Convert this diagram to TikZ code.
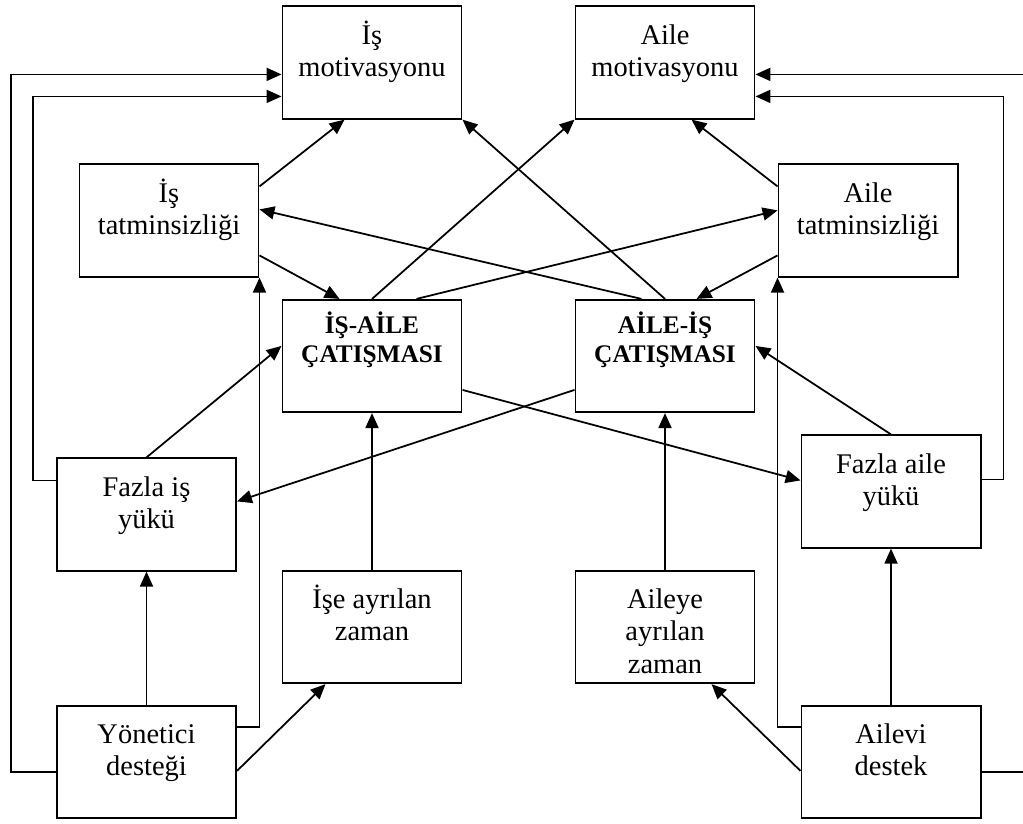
\documentclass[tikz,border=0pt]{standalone}
\usepackage{fontspec}
\setmainfont{Liberation Serif}
\usetikzlibrary{arrows.meta,calc}
\newcommand{\kutuyazi}[1]{\parbox[c][64pt][t]{102pt}{\centering\rule{0pt}{21.5pt}#1}}
\newcommand{\kalinyazi}[1]{\parbox[c][64pt][t]{102pt}{\centering\fontsize{14.4}{16.8}\selectfont\bfseries\rule{0pt}{19pt}#1}}
\tikzset{
	kutu/.style={draw,line width=1pt,rectangle,inner sep=0pt,minimum width=102pt,minimum height=64pt,font=\fontsize{16.2}{18.4}\selectfont},
	ok/.style={line width=1pt,-{Triangle[length=8.5pt,width=7.4pt]}}
}
\begin{document}
\begin{tikzpicture}[x=0.02cm,y=-0.02cm]
				\useasboundingbox (0,0) rectangle (1023,823);
				\node[kutu] (ismot) at (372,62.5) {\kutuyazi{İş\\motivasyonu}};
				\node[kutu] (ailemot) at (665,62.5) {\kutuyazi{Aile\\motivasyonu}};
				\node[kutu] (istat) at (169,220.5) {\kutuyazi{İş\\tatminsizliği}};
				\node[kutu] (ailetat) at (868,220.5) {\kutuyazi{Aile\\tatminsizliği}};
				\node[kutu] (iac) at (372,356) {\kalinyazi{İŞ-AİLE\\ÇATIŞMASI}};
				\node[kutu] (aic) at (665,356) {\kalinyazi{AİLE-İŞ\\ÇATIŞMASI}};
				\node[kutu] (fiy) at (146.5,514.5) {\kutuyazi{Fazla iş\\yükü}};
				\node[kutu] (fay) at (891,491.5) {\kutuyazi{Fazla aile\\yükü}};
				\node[kutu] (iaz) at (372,627) {\kutuyazi{İşe ayrılan\\zaman}};
				\node[kutu] (aaz) at (665,627) {\kutuyazi{Aileye\\ayrılan\\zaman}};
				\node[kutu] (yd) at (146.5,762) {\kutuyazi{Yönetici\\desteği}};
				\node[kutu] (ad) at (891,762) {\kutuyazi{Ailevi\\destek}};
				% tatminsizlik ve catisma oklari
				\draw[ok] ($(istat.north east)+(0,23)$)--($(ismot.south west)+(63,0)$);
				\draw[ok] ($(ailetat.north west)+(0,23)$)--($(ailemot.south west)+(117,0)$);
				\draw[ok] ($(aic.north west)+(67,0)$)--($(istat.north east)+(0,46)$);
				\draw[ok] ($(iac.north west)+(135,0)$)--($(ailetat.north west)+(0,47)$);
				\draw[ok] ($(istat.north east)+(0,92)$)--($(iac.north west)+(58,0)$);
				\draw[ok] ($(ailetat.north west)+(0,92)$)--($(aic.north west)+(122,0)$);
				\draw[ok] (iac.north)--(ailemot.south west);
				\draw[ok] (aic.north)--(ismot.south east);
				\draw[ok] (fiy.north)--($(iac.north west)+(0,47)$);
				\draw[ok] (fay.north)--($(aic.north east)+(0,47)$);
				\draw[ok] ($(iac.north east)+(0,91)$)--($(fay.north west)+(0,46)$);
				\draw[ok] ($(aic.north west)+(0,91)$)--($(fiy.north east)+(0,44)$);
				% dikey oklar
				\draw[ok] (iaz.north)--(iac.south);
				\draw[ok] (aaz.north)--(aic.south);
				\draw[ok] (yd.north)--(fiy.south);
				\draw[ok] (ad.north)--(fay.south);
				\draw[ok] ($(yd.north east)+(0,66)$)--($(iaz.south west)+(44,0)$);
				\draw[ok] ($(ad.north west)+(0,66)$)--($(aaz.south west)+(137,0)$);
				% dis cizgiler
				\draw[ok] ($(yd.north west)+(0,67)$)--++(-45,0)|-($(ismot.north west)+(0,69)$);
				\draw[ok] ($(fiy.north west)+(0,23)$)--++(-23,0)|-($(ismot.north west)+(0,91)$);
				\draw[ok] ($(yd.north east)+(0,22)$)-|(istat.south east);
				\draw[ok] ($(ad.north west)+(0,22)$)-|(ailetat.south west);
				\draw[ok] ($(fay.north east)+(0,45)$)--++(22,0)|-($(ailemot.north east)+(0,91)$);
				\draw[ok] ($(ad.north east)+(0,67)$)--++(45,0)|-($(ailemot.north east)+(0,69)$);
			\end{tikzpicture}
\end{document}
